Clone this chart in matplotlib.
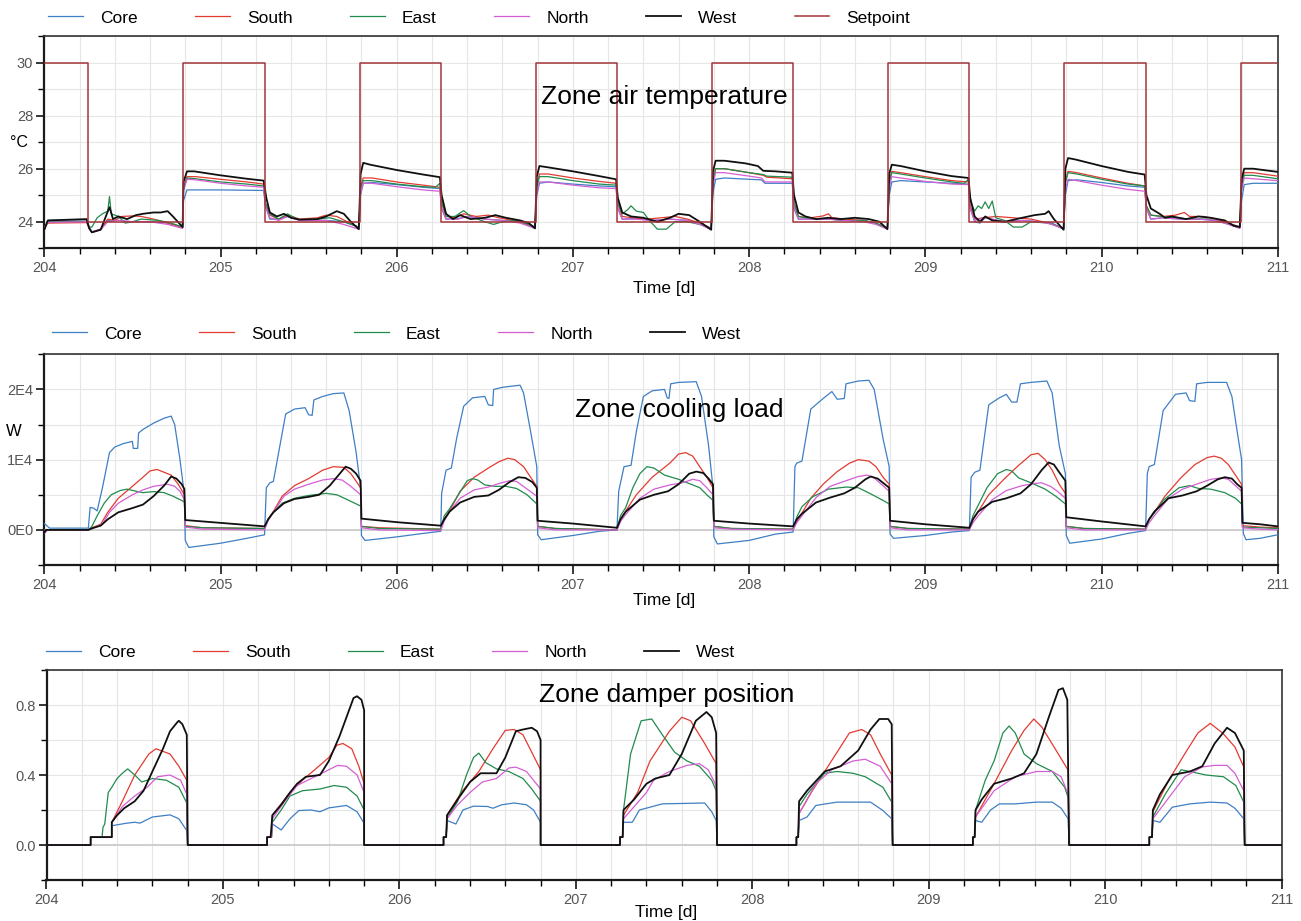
import matplotlib
matplotlib.use("Agg")
import matplotlib.pyplot as plt
import matplotlib.font_manager as fm
from matplotlib.ticker import MultipleLocator, FixedLocator, FixedFormatter

W, H = 1301, 921

ZONES = ["Core", "South", "East", "North", "West"]
COLORS = {"Core": "#3f7fc4", "South": "#e23b30", "East": "#228b4e",
          "North": "#d45fd4", "West": "#101010", "Setpoint": "#a3363a"}

DAYS = [204, 205, 206, 207, 208, 209, 210, 211]

# setpoint (steps-post)
SETPOINT_T = [204.0, 204.25, 204.79, 205.25, 205.79, 206.25, 206.79, 207.25,
              207.79, 208.25, 208.79, 209.25, 209.79, 210.25, 210.79, 211.0]
SETPOINT_V = [30, 24, 30, 24, 30, 24, 30, 24, 30, 24, 30, 24, 30, 24, 30, 30]

# zone air temperature [degC], (time [d], value)
TEMP_CORE = [
    (204.0, 23.75), (204.02, 24.05), (204.24, 24.08), (204.255, 23.8), (204.27, 23.62), (204.32, 23.72),
    (204.36, 24.05), (204.42, 24.05), (204.5, 24.0), (204.6, 24.0), (204.7, 23.95), (204.785, 23.8),
    (204.79, 24.8), (204.81, 25.2), (205.0, 25.2), (205.245, 25.18),
    (205.255, 24.6), (205.28, 24.1), (205.33, 24.1), (205.38, 24.2), (205.45, 24.05), (205.6, 24.05),
    (205.7, 24.0), (205.785, 23.8),
    (205.795, 25.0), (205.81, 25.45), (205.86, 25.48), (206.0, 25.4), (206.15, 25.3), (206.245, 25.25),
    (206.255, 24.5), (206.28, 24.1), (206.35, 24.12), (206.4, 24.2), (206.5, 24.1), (206.6, 24.05),
    (206.7, 24.0), (206.785, 23.8),
    (206.795, 25.0), (206.81, 25.45), (206.86, 25.5), (207.0, 25.42), (207.15, 25.35), (207.245, 25.32),
    (207.255, 24.5), (207.28, 24.1), (207.35, 24.12), (207.45, 24.05), (207.55, 24.1), (207.65, 24.05),
    (207.72, 23.95), (207.785, 23.75),
    (207.795, 25.1), (207.81, 25.6), (207.86, 25.65), (208.0, 25.6), (208.07, 25.58), (208.09, 25.45),
    (208.245, 25.45),
    (208.255, 24.5), (208.28, 24.1), (208.35, 24.1), (208.45, 24.1), (208.55, 24.05), (208.65, 24.05),
    (208.72, 23.95), (208.785, 23.75),
    (208.795, 25.0), (208.81, 25.5), (208.86, 25.55), (209.0, 25.5), (209.15, 25.45), (209.245, 25.42),
    (209.255, 24.5), (209.28, 24.0), (209.31, 23.95), (209.34, 24.15), (209.45, 24.0), (209.55, 24.05),
    (209.65, 24.0), (209.72, 23.95), (209.785, 23.72),
    (209.795, 25.0), (209.81, 25.55), (209.86, 25.58), (210.0, 25.48), (210.15, 25.35), (210.245, 25.3),
    (210.255, 24.5), (210.28, 24.1), (210.35, 24.15), (210.45, 24.1), (210.55, 24.1), (210.65, 24.05),
    (210.72, 23.95), (210.785, 23.8),
    (210.795, 24.8), (210.81, 25.4), (210.86, 25.45), (211.0, 25.45),
]
TEMP_SOUTH = [
    (204.0, 23.8), (204.02, 23.95), (204.24, 23.97), (204.255, 23.75), (204.27, 23.6), (204.32, 23.72),
    (204.36, 24.1), (204.4, 24.05), (204.44, 24.2), (204.5, 24.22), (204.55, 24.2), (204.62, 24.1),
    (204.7, 23.95), (204.785, 23.78),
    (204.79, 25.3), (204.81, 25.7), (204.86, 25.7), (205.0, 25.6), (205.15, 25.5), (205.245, 25.42),
    (205.255, 24.7), (205.28, 24.25), (205.33, 24.1), (205.38, 24.25), (205.45, 24.1), (205.55, 24.15),
    (205.6, 24.25), (205.66, 24.2), (205.72, 24.0), (205.785, 23.78),
    (205.795, 25.3), (205.81, 25.65), (205.86, 25.65), (206.0, 25.5), (206.15, 25.38), (206.245, 25.3),
    (206.255, 24.7), (206.28, 24.2), (206.33, 24.15), (206.38, 24.3), (206.45, 24.2), (206.52, 24.25),
    (206.58, 24.15), (206.66, 24.05), (206.74, 23.9), (206.785, 23.8),
    (206.795, 25.4), (206.81, 25.8), (206.86, 25.8), (207.0, 25.65), (207.15, 25.52), (207.245, 25.45),
    (207.255, 24.7), (207.28, 24.2), (207.34, 24.15), (207.42, 24.1), (207.5, 24.15), (207.58, 24.2),
    (207.65, 24.1), (207.72, 23.95), (207.785, 23.75),
    (207.795, 25.5), (207.81, 26.0), (207.86, 26.0), (208.0, 25.85), (208.08, 25.75), (208.1, 25.68),
    (208.245, 25.62),
    (208.255, 24.7), (208.28, 24.2), (208.35, 24.15), (208.42, 24.22), (208.45, 24.3), (208.47, 24.15),
    (208.55, 24.1), (208.65, 24.05), (208.72, 23.95), (208.785, 23.75),
    (208.795, 25.5), (208.81, 25.9), (208.86, 25.85), (209.0, 25.7), (209.15, 25.55), (209.245, 25.5),
    (209.255, 24.6), (209.28, 24.1), (209.33, 24.15), (209.4, 24.2), (209.5, 24.15), (209.6, 24.1),
    (209.7, 23.95), (209.785, 23.75),
    (209.795, 25.5), (209.81, 25.9), (209.86, 25.85), (210.0, 25.65), (210.15, 25.45), (210.245, 25.35),
    (210.255, 24.6), (210.28, 24.25), (210.35, 24.2), (210.42, 24.25), (210.47, 24.35), (210.5, 24.2),
    (210.58, 24.2), (210.65, 24.1), (210.72, 23.95), (210.785, 23.8),
    (210.795, 25.4), (210.81, 25.85), (210.86, 25.85), (211.0, 25.72),
]
TEMP_EAST = [
    (204.0, 23.75), (204.02, 24.0), (204.24, 24.02), (204.255, 23.8), (204.27, 23.8), (204.3, 24.15),
    (204.33, 24.3), (204.36, 24.4), (204.37, 24.95), (204.38, 24.3), (204.42, 24.2), (204.46, 23.95),
    (204.5, 24.0), (204.55, 24.1), (204.65, 24.05), (204.72, 23.95), (204.785, 23.8),
    (204.79, 25.2), (204.81, 25.65), (204.86, 25.62), (205.0, 25.5), (205.15, 25.42), (205.245, 25.35),
    (205.255, 24.7), (205.28, 24.3), (205.33, 24.1), (205.38, 24.3), (205.44, 24.08), (205.55, 24.1),
    (205.62, 24.15), (205.7, 24.0), (205.785, 23.8),
    (205.795, 25.2), (205.81, 25.55), (205.86, 25.55), (206.0, 25.42), (206.15, 25.32), (206.22, 25.3),
    (206.245, 25.45),
    (206.255, 24.8), (206.28, 24.2), (206.33, 24.2), (206.38, 24.42), (206.42, 24.2), (206.5, 24.0),
    (206.55, 23.9), (206.6, 24.0), (206.68, 24.05), (206.75, 23.9), (206.785, 23.8),
    (206.795, 25.3), (206.81, 25.7), (206.86, 25.7), (207.0, 25.55), (207.15, 25.42), (207.245, 25.38),
    (207.255, 24.7), (207.28, 24.3), (207.31, 24.45), (207.33, 24.6), (207.36, 24.4), (207.4, 24.35),
    (207.44, 24.0), (207.48, 23.72), (207.53, 23.72), (207.58, 24.0), (207.65, 24.0), (207.72, 23.9),
    (207.785, 23.75),
    (207.795, 25.5), (207.81, 26.0), (207.86, 26.0), (208.0, 25.85), (208.08, 25.78), (208.1, 25.72),
    (208.245, 25.68),
    (208.255, 24.7), (208.28, 24.2), (208.35, 24.1), (208.45, 24.1), (208.55, 24.05), (208.65, 24.05),
    (208.72, 23.95), (208.785, 23.75),
    (208.795, 25.45), (208.81, 25.85), (208.86, 25.8), (209.0, 25.65), (209.15, 25.5), (209.22, 25.45),
    (209.245, 25.6),
    (209.255, 24.8), (209.28, 24.4), (209.3, 24.6), (209.32, 24.5), (209.34, 24.75), (209.36, 24.5),
    (209.38, 24.78), (209.4, 24.15), (209.45, 24.05), (209.5, 23.8), (209.55, 23.8), (209.6, 24.0),
    (209.7, 23.95), (209.785, 23.75),
    (209.795, 25.45), (209.81, 25.85), (209.86, 25.8), (210.0, 25.6), (210.15, 25.42), (210.245, 25.35),
    (210.255, 24.6), (210.28, 24.25), (210.34, 24.2), (210.42, 24.15), (210.5, 24.1), (210.6, 24.1),
    (210.7, 23.95), (210.785, 23.8),
    (210.795, 25.35), (210.81, 25.75), (210.86, 25.75), (211.0, 25.62),
]
TEMP_NORTH = [
    (204.0, 23.7), (204.02, 23.98), (204.24, 24.0), (204.255, 23.75), (204.27, 23.62), (204.32, 23.7),
    (204.36, 24.0), (204.42, 24.05), (204.5, 24.0), (204.6, 24.0), (204.7, 23.9), (204.785, 23.75),
    (204.79, 25.2), (204.81, 25.6), (204.86, 25.58), (205.0, 25.45), (205.15, 25.35), (205.245, 25.3),
    (205.255, 24.6), (205.28, 24.15), (205.33, 24.05), (205.38, 24.2), (205.45, 24.05), (205.6, 24.05),
    (205.7, 23.9), (205.785, 23.72),
    (205.795, 25.1), (205.81, 25.45), (205.86, 25.45), (206.0, 25.32), (206.15, 25.2), (206.245, 25.15),
    (206.255, 24.5), (206.28, 24.1), (206.35, 24.1), (206.4, 24.2), (206.5, 24.1), (206.6, 24.05),
    (206.7, 23.95), (206.785, 23.75),
    (206.795, 25.1), (206.81, 25.5), (206.86, 25.5), (207.0, 25.38), (207.15, 25.28), (207.245, 25.25),
    (207.255, 24.5), (207.28, 24.1), (207.35, 24.1), (207.45, 24.05), (207.55, 24.1), (207.65, 24.05),
    (207.72, 23.9), (207.785, 23.7),
    (207.795, 25.4), (207.81, 25.85), (207.86, 25.85), (208.0, 25.72), (208.07, 25.65), (208.09, 25.5),
    (208.245, 25.5),
    (208.255, 24.5), (208.28, 24.1), (208.35, 24.1), (208.45, 24.1), (208.55, 24.05), (208.65, 24.0),
    (208.72, 23.9), (208.785, 23.72),
    (208.795, 25.3), (208.81, 25.7), (208.86, 25.65), (209.0, 25.52), (209.15, 25.42), (209.245, 25.4),
    (209.255, 24.5), (209.28, 24.05), (209.34, 24.15), (209.45, 24.0), (209.55, 24.05), (209.65, 24.0),
    (209.72, 23.9), (209.785, 23.72),
    (209.795, 25.2), (209.81, 25.6), (209.86, 25.55), (210.0, 25.38), (210.15, 25.22), (210.245, 25.15),
    (210.255, 24.5), (210.28, 24.1), (210.35, 24.15), (210.45, 24.1), (210.55, 24.1), (210.65, 24.05),
    (210.72, 23.9), (210.785, 23.75),
    (210.795, 25.2), (210.81, 25.65), (210.86, 25.62), (211.0, 25.55),
]
TEMP_WEST = [
    (204.0, 23.7), (204.02, 24.05), (204.15, 24.08), (204.24, 24.1), (204.255, 23.75), (204.27, 23.6),
    (204.32, 23.7), (204.355, 24.3), (204.37, 24.55), (204.39, 24.1), (204.42, 24.2), (204.47, 24.1),
    (204.52, 24.25), (204.56, 24.3), (204.62, 24.35), (204.66, 24.35), (204.7, 24.4), (204.73, 24.2),
    (204.785, 23.8),
    (204.79, 25.5), (204.81, 25.9), (204.85, 25.9), (205.0, 25.75), (205.15, 25.62), (205.245, 25.55),
    (205.26, 24.9), (205.28, 24.35), (205.32, 24.2), (205.36, 24.3), (205.4, 24.15), (205.45, 24.08),
    (205.55, 24.1), (205.6, 24.2), (205.66, 24.4), (205.7, 24.3), (205.74, 24.0), (205.785, 23.72),
    (205.795, 25.8), (205.81, 26.22), (205.85, 26.15), (206.0, 25.95), (206.15, 25.78), (206.245, 25.68),
    (206.255, 25.0), (206.28, 24.3), (206.32, 24.1), (206.36, 24.25), (206.42, 24.1), (206.5, 24.15),
    (206.56, 24.25), (206.62, 24.15), (206.7, 24.05), (206.75, 23.95), (206.785, 23.75),
    (206.795, 25.7), (206.81, 26.1), (206.86, 26.05), (207.0, 25.9), (207.15, 25.72), (207.245, 25.6),
    (207.255, 24.9), (207.28, 24.35), (207.33, 24.2), (207.4, 24.15), (207.48, 24.0), (207.55, 24.15),
    (207.6, 24.3), (207.66, 24.25), (207.72, 24.0), (207.785, 23.7),
    (207.795, 25.9), (207.81, 26.3), (207.86, 26.3), (207.98, 26.2), (208.05, 26.1), (208.08, 25.92),
    (208.15, 25.9), (208.245, 25.85),
    (208.255, 25.0), (208.28, 24.35), (208.32, 24.2), (208.38, 24.1), (208.45, 24.15), (208.52, 24.1),
    (208.6, 24.15), (208.68, 24.1), (208.74, 24.0), (208.785, 23.72),
    (208.795, 25.8), (208.81, 26.15), (208.86, 26.1), (209.0, 25.9), (209.15, 25.72), (209.245, 25.65),
    (209.255, 24.9), (209.28, 24.2), (209.31, 24.0), (209.34, 24.2), (209.38, 24.05), (209.45, 24.0),
    (209.55, 24.15), (209.62, 24.25), (209.68, 24.3), (209.7, 24.4), (209.73, 24.1), (209.785, 23.7),
    (209.795, 26.0), (209.81, 26.4), (209.85, 26.35), (210.0, 26.1), (210.15, 25.88), (210.245, 25.78),
    (210.255, 25.0), (210.28, 24.5), (210.33, 24.3), (210.36, 24.15), (210.4, 24.2), (210.48, 24.1),
    (210.55, 24.2), (210.62, 24.15), (210.7, 24.05), (210.75, 23.85), (210.785, 23.8),
    (210.795, 25.6), (210.81, 26.0), (210.86, 26.0), (211.0, 25.88),
]

# zone cooling load [W]
LOAD_CORE = [
    (204.0, 900), (204.01, 700), (204.03, 250), (204.25, 250), (204.26, 3200), (204.28, 3100), (204.3, 2700),
    (204.33, 6000), (204.37, 11000), (204.4, 11800), (204.45, 12300), (204.5, 12600), (204.505, 11600),
    (204.53, 11600), (204.535, 13800), (204.56, 14300), (204.62, 15200), (204.68, 15900), (204.72, 16200),
    (204.74, 15000), (204.77, 10000), (204.795, 5000), (204.8, -1500), (204.82, -2500), (205.0, -1900),
    (205.15, -1200), (205.25, -700),
    (205.26, 6000), (205.28, 6700), (205.3, 6900), (205.33, 11000), (205.37, 16500), (205.42, 17200),
    (205.48, 17400), (205.5, 16400), (205.52, 16300), (205.53, 18500), (205.58, 19000), (205.64, 19400),
    (205.7, 19500), (205.73, 17000), (205.77, 11000), (205.795, 6000), (205.8, -800), (205.82, -1500),
    (206.0, -1000), (206.15, -500), (206.25, -200),
    (206.255, 5200), (206.28, 8500), (206.31, 8800), (206.34, 13000), (206.38, 17600), (206.43, 18800),
    (206.5, 19000), (206.52, 17800), (206.545, 17700), (206.55, 20000), (206.6, 20300), (206.7, 20600),
    (206.72, 19500), (206.76, 14000), (206.795, 9000), (206.8, -700), (206.82, -1400), (207.0, -800),
    (207.15, -200), (207.25, 0),
    (207.26, 5500), (207.29, 9000), (207.33, 9200), (207.36, 14000), (207.4, 19000), (207.45, 19800),
    (207.52, 20000), (207.535, 18800), (207.545, 18700), (207.555, 20800), (207.6, 21000), (207.7, 21100),
    (207.73, 19000), (207.77, 12000), (207.795, 6000), (207.8, -1000), (207.82, -2000), (208.0, -1500),
    (208.15, -600), (208.25, -300),
    (208.26, 9000), (208.27, 9500), (208.3, 9800), (208.35, 17200), (208.42, 18700), (208.47, 19700),
    (208.5, 18600), (208.54, 18700), (208.55, 20800), (208.62, 21200), (208.68, 21300), (208.71, 20000),
    (208.76, 13000), (208.795, 9000), (208.8, -600), (208.82, -1200), (209.0, -800), (209.15, -300),
    (209.25, -100),
    (209.26, 7500), (209.28, 8200), (209.31, 8500), (209.36, 17800), (209.42, 18800), (209.46, 19300),
    (209.49, 18200), (209.52, 18200), (209.54, 20800), (209.6, 21000), (209.69, 21200), (209.72, 19500),
    (209.76, 12000), (209.795, 8000), (209.8, -800), (209.82, -1900), (210.0, -1300), (210.15, -500),
    (210.25, -100),
    (210.26, 8000), (210.27, 9000), (210.3, 9300), (210.35, 17000), (210.42, 19300), (210.48, 19500),
    (210.5, 18400), (210.53, 18300), (210.54, 20800), (210.6, 21000), (210.71, 21000), (210.74, 19000),
    (210.77, 14000), (210.795, 10000), (210.805, -500), (210.82, -1400), (210.9, -1200), (211.0, -700),
]
LOAD_SOUTH = [
    (204.0, 0), (204.25, 0), (204.27, 300), (204.32, 800), (204.36, 2500), (204.42, 4500), (204.5, 6200),
    (204.56, 7500), (204.6, 8400), (204.64, 8600), (204.68, 8200), (204.72, 7800), (204.76, 6500),
    (204.795, 5000), (204.8, 600), (204.9, 300), (205.25, 200),
    (205.27, 1500), (205.3, 2600), (205.35, 4800), (205.42, 6300), (205.5, 7300), (205.58, 8500),
    (205.64, 9000), (205.7, 8900), (205.74, 8000), (205.795, 6000), (205.8, 500), (205.9, 300), (206.25, 100),
    (206.27, 1500), (206.3, 2700), (206.36, 5500), (206.44, 7500), (206.52, 8800), (206.58, 9700),
    (206.63, 10200), (206.67, 10000), (206.72, 9000), (206.76, 7500), (206.795, 6200), (206.8, 500),
    (206.9, 200), (207.25, 0),
    (207.27, 1500), (207.3, 2700), (207.36, 5000), (207.45, 7500), (207.55, 9500), (207.6, 10800),
    (207.64, 11000), (207.68, 10500), (207.72, 9000), (207.76, 7500), (207.795, 6000), (207.8, 500),
    (207.9, 200), (208.25, 100),
    (208.27, 1200), (208.3, 2400), (208.35, 4500), (208.42, 6500), (208.5, 8300), (208.57, 9500),
    (208.62, 10000), (208.68, 9800), (208.72, 9000), (208.76, 7500), (208.795, 6500), (208.8, 500),
    (208.9, 200), (209.25, 100),
    (209.27, 1500), (209.3, 2600), (209.36, 5000), (209.45, 7300), (209.53, 9200), (209.6, 10700),
    (209.64, 10900), (209.68, 10000), (209.72, 8500), (209.76, 6500), (209.795, 5200), (209.8, 500),
    (209.9, 200), (210.25, 100),
    (210.27, 1500), (210.3, 2500), (210.36, 4800), (210.45, 7400), (210.53, 9300), (210.6, 10300),
    (210.64, 10500), (210.68, 10200), (210.72, 9300), (210.76, 7800), (210.795, 6500), (210.8, 600),
    (210.9, 400), (211.0, 300),
]
LOAD_EAST = [
    (204.0, 0), (204.25, 0), (204.27, 500), (204.3, 2000), (204.34, 3800), (204.38, 5000), (204.43, 5600),
    (204.47, 5800), (204.52, 5500), (204.56, 5300), (204.62, 5450), (204.68, 5300), (204.73, 4800),
    (204.795, 4000), (204.8, 500), (204.9, 300), (205.25, 200),
    (205.27, 1500), (205.3, 2500), (205.35, 3800), (205.42, 4500), (205.5, 4900), (205.6, 5200),
    (205.66, 5000), (205.72, 4300), (205.795, 3400), (205.8, 500), (205.9, 200), (206.25, 100),
    (206.27, 2000), (206.3, 3000), (206.35, 5000), (206.4, 7000), (206.43, 7300), (206.46, 7100),
    (206.5, 6400), (206.56, 6200), (206.62, 6200), (206.68, 5900), (206.74, 5000), (206.795, 3700),
    (206.8, 500), (206.9, 200), (207.25, 0),
    (207.27, 2000), (207.3, 3200), (207.34, 6000), (207.38, 8000), (207.42, 9000), (207.46, 8800),
    (207.52, 7800), (207.6, 7200), (207.66, 6600), (207.72, 6000), (207.76, 5000), (207.795, 4200),
    (207.8, 500), (207.9, 200), (208.25, 100),
    (208.27, 1800), (208.3, 3300), (208.36, 4700), (208.45, 5800), (208.55, 6100), (208.62, 6000),
    (208.7, 5000), (208.76, 4200), (208.795, 3700), (208.8, 500), (208.9, 200), (209.25, 100),
    (209.27, 2000), (209.3, 3500), (209.35, 6000), (209.41, 8000), (209.46, 8600), (209.49, 8400),
    (209.53, 7400), (209.6, 6700), (209.68, 5800), (209.74, 4800), (209.795, 3700), (209.8, 500),
    (209.9, 200), (210.25, 100),
    (210.27, 1500), (210.3, 2400), (210.35, 4200), (210.44, 6000), (210.5, 6300), (210.55, 5900),
    (210.62, 5800), (210.7, 5300), (210.76, 4500), (210.795, 3700), (210.8, 400), (210.9, 300), (211.0, 200),
]
LOAD_NORTH = [
    (204.0, -500), (204.02, 0), (204.25, 0), (204.28, 300), (204.33, 800), (204.37, 2500), (204.42, 3800),
    (204.5, 5000), (204.56, 5700), (204.62, 6200), (204.7, 6500), (204.74, 6200), (204.77, 5500),
    (204.795, 4300), (204.8, 400), (204.9, 100), (205.25, 0),
    (205.27, 1300), (205.3, 2500), (205.36, 4800), (205.42, 5800), (205.5, 6500), (205.58, 7100),
    (205.64, 7300), (205.69, 7100), (205.74, 6200), (205.795, 5000), (205.8, 300), (205.9, 0), (206.25, -100),
    (206.27, 1300), (206.3, 2600), (206.36, 4500), (206.44, 5700), (206.52, 6100), (206.58, 6600),
    (206.64, 7000), (206.68, 6900), (206.73, 6000), (206.795, 4800), (206.8, 300), (206.9, 0), (207.25, 0),
    (207.27, 1200), (207.3, 2200), (207.38, 4500), (207.46, 5800), (207.55, 6400), (207.62, 6700),
    (207.68, 7200), (207.72, 7000), (207.76, 6000), (207.795, 5000), (207.8, 300), (207.9, 100), (208.25, 0),
    (208.27, 1000), (208.3, 2000), (208.38, 4600), (208.46, 6200), (208.55, 7000), (208.62, 7600),
    (208.67, 7800), (208.71, 7400), (208.75, 6500), (208.795, 5500), (208.8, 300), (208.9, 0), (209.25, 0),
    (209.27, 1000), (209.3, 2000), (209.38, 4300), (209.46, 5600), (209.55, 6300), (209.62, 6600),
    (209.66, 6700), (209.71, 6200), (209.75, 5500), (209.795, 4500), (209.8, 300), (209.9, 0), (210.25, 0),
    (210.27, 1000), (210.3, 2000), (210.38, 4500), (210.46, 5800), (210.55, 6600), (210.62, 7200),
    (210.68, 7400), (210.72, 7200), (210.76, 6300), (210.795, 5500), (210.8, 300), (210.9, 100), (211.0, 0),
]
LOAD_WEST = [
    (204.0, -400), (204.01, 0), (204.25, 0), (204.28, 300), (204.32, 600), (204.36, 1500), (204.42, 2500),
    (204.5, 3100), (204.56, 3600), (204.62, 4800), (204.68, 6300), (204.72, 7600), (204.75, 7300),
    (204.78, 6500), (204.795, 5800), (204.8, 1400), (205.0, 1000), (205.25, 500),
    (205.27, 1500), (205.3, 2500), (205.36, 3800), (205.42, 4400), (205.5, 4700), (205.56, 5000),
    (205.62, 6300), (205.67, 7800), (205.71, 9000), (205.74, 8700), (205.77, 8000), (205.795, 7000),
    (205.8, 1600), (206.0, 1100), (206.25, 600),
    (206.27, 1500), (206.3, 2600), (206.36, 3900), (206.44, 4700), (206.52, 4900), (206.58, 5700),
    (206.64, 6800), (206.69, 7500), (206.73, 7400), (206.77, 6800), (206.795, 6000), (206.8, 1300),
    (207.0, 900), (207.25, 300),
    (207.27, 1500), (207.3, 2600), (207.38, 4300), (207.46, 5000), (207.54, 5500), (207.6, 6500),
    (207.66, 8000), (207.7, 8300), (207.74, 8100), (207.77, 7300), (207.795, 6500), (207.8, 1300),
    (208.0, 900), (208.25, 500),
    (208.27, 1500), (208.3, 2300), (208.38, 3900), (208.46, 4600), (208.54, 5200), (208.6, 6000),
    (208.66, 7200), (208.69, 7600), (208.73, 7300), (208.77, 6500), (208.795, 6000), (208.8, 1300),
    (209.0, 800), (209.25, 300),
    (209.27, 1500), (209.3, 2600), (209.38, 4000), (209.46, 4500), (209.54, 5200), (209.6, 6500),
    (209.66, 8500), (209.7, 9600), (209.73, 9300), (209.76, 8200), (209.795, 7000), (209.8, 1800),
    (210.0, 1200), (210.25, 500),
    (210.27, 1500), (210.3, 2600), (210.38, 4500), (210.46, 4900), (210.54, 5500), (210.6, 6300),
    (210.66, 7200), (210.7, 7500), (210.74, 7300), (210.77, 6500), (210.795, 6000), (210.8, 1000),
    (210.9, 800), (211.0, 500),
]

# zone damper position [1]
DAMPER_CORE = [
    (204.0, 0), (204.25, 0), (204.25, 0.045), (204.37, 0.045), (204.37, 0.11), (204.45, 0.124), (204.5, 0.13),
    (204.53, 0.125), (204.6, 0.16), (204.7, 0.172), (204.75, 0.15), (204.795, 0.082), (204.8, 0), (205.25, 0),
    (205.25, 0.045), (205.275, 0.045), (205.28, 0.12), (205.33, 0.086), (205.38, 0.15), (205.43, 0.197),
    (205.5, 0.2), (205.55, 0.19), (205.6, 0.212), (205.7, 0.226), (205.76, 0.19), (205.8, 0.124), (205.8, 0),
    (206.25, 0),
    (206.25, 0.045), (206.265, 0.045), (206.27, 0.14), (206.32, 0.12), (206.36, 0.2), (206.42, 0.222),
    (206.5, 0.22), (206.53, 0.21), (206.58, 0.23), (206.65, 0.24), (206.72, 0.23), (206.76, 0.2),
    (206.8, 0.13), (206.8, 0), (207.25, 0),
    (207.25, 0.045), (207.265, 0.045), (207.27, 0.13), (207.32, 0.13), (207.36, 0.2), (207.42, 0.216),
    (207.49, 0.235), (207.73, 0.24), (207.77, 0.19), (207.795, 0.14), (207.8, 0), (208.25, 0),
    (208.25, 0.045), (208.26, 0.045), (208.265, 0.14), (208.31, 0.16), (208.36, 0.226), (208.48, 0.245),
    (208.67, 0.245), (208.74, 0.197), (208.79, 0.15), (208.795, 0), (209.25, 0),
    (209.25, 0.045), (209.26, 0.045), (209.265, 0.14), (209.3, 0.13), (209.35, 0.2), (209.4, 0.235),
    (209.49, 0.235), (209.61, 0.245), (209.7, 0.245), (209.75, 0.21), (209.79, 0.15), (209.795, 0),
    (210.25, 0),
    (210.25, 0.045), (210.265, 0.045), (210.27, 0.14), (210.31, 0.13), (210.38, 0.216), (210.48, 0.235),
    (210.595, 0.245), (210.69, 0.24), (210.735, 0.21), (210.785, 0.15), (210.79, 0), (211.0, 0),
]
DAMPER_SOUTH = [
    (204.0, 0), (204.25, 0), (204.25, 0.045), (204.37, 0.045), (204.37, 0.13), (204.43, 0.25), (204.5, 0.4),
    (204.58, 0.52), (204.62, 0.55), (204.7, 0.52), (204.75, 0.45), (204.795, 0.37), (204.8, 0), (205.25, 0),
    (205.25, 0.045), (205.275, 0.045), (205.28, 0.17), (205.38, 0.3), (205.45, 0.37), (205.52, 0.43),
    (205.6, 0.5), (205.645, 0.57), (205.68, 0.58), (205.73, 0.55), (205.77, 0.45), (205.8, 0.35), (205.8, 0),
    (206.25, 0),
    (206.25, 0.045), (206.265, 0.045), (206.27, 0.17), (206.35, 0.3), (206.45, 0.42), (206.53, 0.55),
    (206.6, 0.655), (206.65, 0.66), (206.7, 0.63), (206.74, 0.55), (206.8, 0.43), (206.8, 0), (207.25, 0),
    (207.25, 0.045), (207.265, 0.045), (207.27, 0.17), (207.35, 0.3), (207.42, 0.48), (207.53, 0.65),
    (207.6, 0.73), (207.65, 0.71), (207.73, 0.58), (207.795, 0.465), (207.8, 0), (208.25, 0),
    (208.25, 0.045), (208.26, 0.045), (208.265, 0.18), (208.34, 0.31), (208.41, 0.42), (208.48, 0.53),
    (208.55, 0.64), (208.62, 0.66), (208.67, 0.63), (208.725, 0.52), (208.79, 0.40), (208.795, 0), (209.25, 0),
    (209.25, 0.045), (209.26, 0.045), (209.265, 0.16), (209.37, 0.35), (209.47, 0.54), (209.54, 0.655),
    (209.595, 0.72), (209.64, 0.675), (209.71, 0.56), (209.79, 0.427), (209.795, 0), (210.25, 0),
    (210.25, 0.045), (210.265, 0.045), (210.27, 0.19), (210.36, 0.37), (210.45, 0.52), (210.525, 0.64),
    (210.595, 0.695), (210.665, 0.64), (210.735, 0.56), (210.785, 0.446), (210.79, 0), (211.0, 0),
]
DAMPER_EAST = [
    (204.0, 0), (204.25, 0), (204.25, 0.045), (204.315, 0.045), (204.32, 0.1), (204.33, 0.12), (204.35, 0.3),
    (204.37, 0.33), (204.4, 0.38), (204.43, 0.41), (204.46, 0.435), (204.5, 0.4), (204.54, 0.36),
    (204.6, 0.38), (204.68, 0.37), (204.75, 0.33), (204.795, 0.24), (204.8, 0), (205.25, 0),
    (205.25, 0.045), (205.275, 0.045), (205.28, 0.13), (205.33, 0.2), (205.38, 0.28), (205.45, 0.31),
    (205.55, 0.32), (205.63, 0.34), (205.7, 0.33), (205.76, 0.28), (205.8, 0.2), (205.8, 0), (206.25, 0),
    (206.25, 0.045), (206.265, 0.045), (206.27, 0.15), (206.33, 0.25), (206.38, 0.4), (206.42, 0.5),
    (206.45, 0.525), (206.49, 0.47), (206.55, 0.435), (206.62, 0.42), (206.7, 0.38), (206.75, 0.32),
    (206.8, 0.25), (206.8, 0), (207.25, 0),
    (207.25, 0.045), (207.265, 0.045), (207.27, 0.2), (207.31, 0.52), (207.37, 0.71), (207.43, 0.72),
    (207.49, 0.63), (207.56, 0.53), (207.63, 0.48), (207.7, 0.45), (207.77, 0.37), (207.795, 0.31),
    (207.8, 0), (208.25, 0),
    (208.25, 0.045), (208.26, 0.045), (208.265, 0.22), (208.31, 0.29), (208.41, 0.41), (208.48, 0.42),
    (208.57, 0.41), (208.64, 0.39), (208.74, 0.33), (208.79, 0.245), (208.795, 0), (209.25, 0),
    (209.25, 0.045), (209.26, 0.045), (209.265, 0.2), (209.32, 0.37), (209.37, 0.48), (209.42, 0.64),
    (209.455, 0.68), (209.49, 0.64), (209.54, 0.52), (209.61, 0.465), (209.7, 0.42), (209.77, 0.33),
    (209.79, 0.27), (209.795, 0), (210.25, 0),
    (210.25, 0.045), (210.265, 0.045), (210.27, 0.16), (210.34, 0.29), (210.43, 0.43), (210.48, 0.42),
    (210.57, 0.40), (210.67, 0.39), (210.74, 0.34), (210.785, 0.245), (210.79, 0), (211.0, 0),
]
DAMPER_NORTH = [
    (204.0, 0), (204.25, 0), (204.25, 0.045), (204.37, 0.045), (204.37, 0.13), (204.43, 0.22), (204.5, 0.28),
    (204.57, 0.33), (204.63, 0.39), (204.7, 0.40), (204.76, 0.37), (204.795, 0.29), (204.8, 0), (205.25, 0),
    (205.25, 0.045), (205.275, 0.045), (205.28, 0.15), (205.35, 0.25), (205.42, 0.34), (205.5, 0.38),
    (205.58, 0.42), (205.65, 0.455), (205.7, 0.45), (205.76, 0.4), (205.8, 0.3), (205.8, 0), (206.25, 0),
    (206.25, 0.045), (206.265, 0.045), (206.27, 0.15), (206.33, 0.23), (206.4, 0.3), (206.47, 0.36),
    (206.55, 0.38), (206.62, 0.44), (206.66, 0.445), (206.72, 0.42), (206.8, 0.32), (206.8, 0), (207.25, 0),
    (207.25, 0.045), (207.265, 0.045), (207.27, 0.15), (207.4, 0.3), (207.44, 0.37), (207.53, 0.42),
    (207.63, 0.455), (207.7, 0.465), (207.75, 0.43), (207.795, 0.34), (207.8, 0), (208.25, 0),
    (208.25, 0.045), (208.26, 0.045), (208.265, 0.18), (208.36, 0.35), (208.45, 0.43), (208.57, 0.48),
    (208.64, 0.49), (208.725, 0.45), (208.79, 0.35), (208.795, 0), (209.25, 0),
    (209.25, 0.045), (209.26, 0.045), (209.265, 0.16), (209.37, 0.31), (209.49, 0.39), (209.61, 0.42),
    (209.7, 0.42), (209.75, 0.39), (209.79, 0.29), (209.795, 0), (210.25, 0),
    (210.25, 0.045), (210.265, 0.045), (210.27, 0.15), (210.36, 0.27), (210.45, 0.39), (210.55, 0.446),
    (210.62, 0.455), (210.69, 0.455), (210.735, 0.41), (210.785, 0.31), (210.79, 0), (211.0, 0),
]
DAMPER_WEST = [
    (204.0, 0), (204.25, 0), (204.25, 0.045), (204.37, 0.045), (204.37, 0.13), (204.4, 0.17), (204.44, 0.21),
    (204.5, 0.25), (204.55, 0.31), (204.6, 0.42), (204.66, 0.55), (204.7, 0.65), (204.74, 0.7),
    (204.75, 0.71), (204.77, 0.69), (204.795, 0.63), (204.8, 0), (205.25, 0),
    (205.25, 0.045), (205.27, 0.045), (205.28, 0.17), (205.33, 0.23), (205.38, 0.3), (205.42, 0.35),
    (205.47, 0.39), (205.55, 0.40), (205.6, 0.48), (205.66, 0.62), (205.7, 0.73), (205.74, 0.84),
    (205.76, 0.85), (205.785, 0.83), (205.8, 0.77), (205.8, 0), (206.25, 0),
    (206.25, 0.045), (206.265, 0.045), (206.27, 0.17), (206.33, 0.26), (206.4, 0.36), (206.46, 0.41),
    (206.55, 0.41), (206.6, 0.5), (206.66, 0.65), (206.7, 0.66), (206.75, 0.67), (206.78, 0.65),
    (206.8, 0.6), (206.8, 0), (207.25, 0),
    (207.25, 0.045), (207.265, 0.045), (207.27, 0.2), (207.33, 0.26), (207.4, 0.35), (207.45, 0.38),
    (207.53, 0.40), (207.6, 0.52), (207.68, 0.71), (207.74, 0.76), (207.77, 0.73), (207.795, 0.64),
    (207.8, 0), (208.25, 0),
    (208.25, 0.045), (208.26, 0.045), (208.265, 0.25), (208.31, 0.31), (208.41, 0.42), (208.5, 0.45),
    (208.6, 0.54), (208.67, 0.66), (208.72, 0.72), (208.77, 0.72), (208.79, 0.69), (208.795, 0), (209.25, 0),
    (209.25, 0.045), (209.26, 0.045), (209.265, 0.2), (209.3, 0.26), (209.37, 0.35), (209.47, 0.38),
    (209.54, 0.41), (209.61, 0.52), (209.68, 0.73), (209.735, 0.886), (209.76, 0.896), (209.785, 0.83),
    (209.795, 0), (210.25, 0),
    (210.25, 0.045), (210.265, 0.045), (210.27, 0.2), (210.31, 0.29), (210.38, 0.40), (210.48, 0.42),
    (210.55, 0.45), (210.62, 0.58), (210.69, 0.67), (210.735, 0.64), (210.785, 0.54), (210.79, 0), (211.0, 0),
]

TEMP = dict(zip(ZONES, [TEMP_CORE, TEMP_SOUTH, TEMP_EAST, TEMP_NORTH, TEMP_WEST]))
LOAD = dict(zip(ZONES, [LOAD_CORE, LOAD_SOUTH, LOAD_EAST, LOAD_NORTH, LOAD_WEST]))
DAMPER = dict(zip(ZONES, [DAMPER_CORE, DAMPER_SOUTH, DAMPER_EAST, DAMPER_NORTH, DAMPER_WEST]))

TEMP_TICKS, TEMP_LABELS = [24, 26, 28, 30], ["24", "26", "28", "30"]
LOAD_TICKS, LOAD_LABELS = [0, 10000, 20000], ["0E0", "1E4", "2E4"]
DAMPER_TICKS, DAMPER_LABELS = [0.0, 0.4, 0.8], ["0.0", "0.4", "0.8"]

# ---------------------------------------------------------------------------
installed = {f.name for f in fm.fontManager.ttflist}
BASE = "Liberation Sans" if "Liberation Sans" in installed else "DejaVu Sans"
if "Liberation Sans Narrow" in installed:
    TICKFONT, TICKSIZE = "Liberation Sans Narrow", 11
else:
    TICKFONT, TICKSIZE = BASE, 10.5
plt.rcParams["font.family"] = [BASE, "DejaVu Sans"]

fig = plt.figure(figsize=(W / 100, H / 100), dpi=100)


def fx(px):
    return px / W


def fy(py):
    return 1 - py / H


def make_axes(left, right, top, bottom):
    return fig.add_axes([fx(left), fy(bottom), fx(right) - fx(left), (bottom - top) / H])


def style(ax, ylim, yticks, ylabels, yminor):
    ax.set_xlim(204, 211)
    ax.set_ylim(*ylim)
    ax.xaxis.set_major_locator(FixedLocator(DAYS))
    ax.xaxis.set_minor_locator(MultipleLocator(0.2))
    ax.set_xticklabels([str(d) for d in DAYS])
    ax.yaxis.set_major_locator(FixedLocator(yticks))
    ax.yaxis.set_major_formatter(FixedFormatter(ylabels))
    ax.yaxis.set_minor_locator(MultipleLocator(yminor))
    ax.grid(True, which="both", color="#e6e6e6", lw=0.8, zorder=0)
    ax.set_axisbelow(True)
    for s in ("left", "bottom"):
        ax.spines[s].set_linewidth(1.6)
        ax.spines[s].set_color("#1a1a1a")
    for s in ("top", "right"):
        ax.spines[s].set_linewidth(1.2)
        ax.spines[s].set_color("#333333")
    ax.tick_params(axis="x", which="major", length=6.5, width=1.1, pad=3.0, direction="out")
    ax.tick_params(axis="x", which="minor", length=4.5, width=1.0, direction="out")
    ax.tick_params(axis="y", which="major", length=5.5, width=1.1, pad=2.5, direction="out")
    ax.tick_params(axis="y", which="minor", length=4.5, width=1.0, direction="out")
    for lab in ax.get_xticklabels() + ax.get_yticklabels():
        lab.set_fontfamily(TICKFONT)
        lab.set_fontsize(TICKSIZE)
        lab.set_color("#555555")


def draw(ax, series):
    handles = []
    for z in ZONES:
        t, v = zip(*series[z])
        lw = 1.3 if z == "West" else 0.9
        h, = ax.plot(t, v, color=COLORS[z], lw=lw, label=z, zorder=3)
        handles.append(h)
    return handles


def legend(ax, handles, x0, yc):
    ax.legend(handles=handles, loc="center left", bbox_to_anchor=(fx(x0), fy(yc)),
              bbox_transform=fig.transFigure, ncol=len(handles), frameon=False,
              fontsize=12.5, handlelength=2.0, handletextpad=1.0, columnspacing=3.3,
              borderpad=0, borderaxespad=0)


# panel 1: zone air temperature
ax1 = make_axes(44.3, 1277.7, 36, 248.3)
h1 = draw(ax1, TEMP)
hs, = ax1.plot(SETPOINT_T, SETPOINT_V, drawstyle="steps-post", color=COLORS["Setpoint"],
               lw=1.1, label="Setpoint", zorder=4)
style(ax1, (23, 31), TEMP_TICKS, TEMP_LABELS, 1)
legend(ax1, h1 + [hs], 48, 18)
fig.text(fx(541), fy(104), "Zone air temperature", fontsize=19, ha="left", va="baseline")
fig.text(fx(10), fy(142), "°C", fontsize=11.5, ha="left", va="center")
fig.text(fx(664), fy(288), "Time [d]", fontsize=12.5, ha="center", va="center")

# panel 2: zone cooling load
ax2 = make_axes(44.3, 1277.7, 354.3, 565)
h2 = draw(ax2, LOAD)
ax2.axhline(0, color="#cccccc", lw=1.3, zorder=1)
style(ax2, (-5000, 25000), LOAD_TICKS, LOAD_LABELS, 5000)
legend(ax2, h2, 52, 334)
fig.text(fx(575), fy(417), "Zone cooling load", fontsize=19, ha="left", va="baseline")
fig.text(fx(6), fy(431), "W", fontsize=12, ha="left", va="center")
fig.text(fx(664), fy(600), "Time [d]", fontsize=12.5, ha="center", va="center")

# panel 3: zone damper position
ax3 = make_axes(46.5, 1281.7, 670, 880)
h3 = draw(ax3, DAMPER)
ax3.axhline(0, color="#cccccc", lw=1.3, zorder=1)
style(ax3, (-0.2, 1.0), DAMPER_TICKS, DAMPER_LABELS, 0.2)
legend(ax3, h3, 46, 652)
fig.text(fx(539), fy(702), "Zone damper position", fontsize=19, ha="left", va="baseline")
fig.text(fx(666), fy(912), "Time [d]", fontsize=12.5, ha="center", va="center")

fig.savefig("out.png", dpi=100)
